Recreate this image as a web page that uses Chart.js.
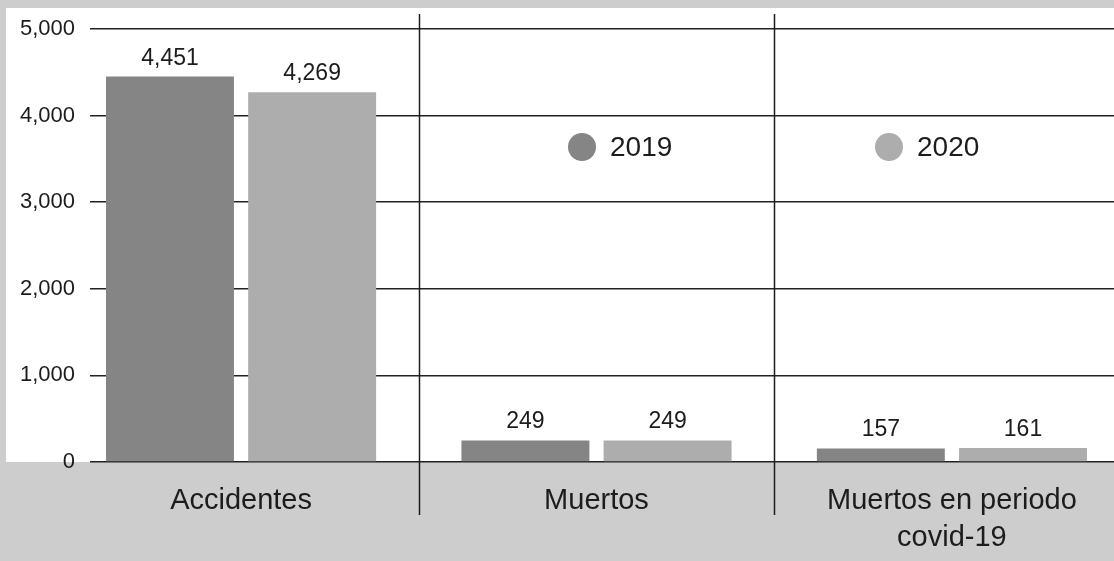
<!DOCTYPE html>
<html>
<head>
<meta charset="utf-8">
<script src="https://cdn.jsdelivr.net/npm/chart.js@4/dist/chart.umd.min.js"></script>
<style>
  html, body { margin: 0; padding: 0; background: #cdcdcd; overflow: hidden; }
  #canvasPanel { display: block; }
</style>
</head>
<body>
<canvas id="canvasPanel" width="1114" height="561"></canvas>
<script>
var CATEGORIES = ['Accidentes', 'Muertos', ['Muertos en periodo', 'covid-19']];
var YEARS = ['2019', '2020'];
var VALUES_2019 = [4451, 249, 157];
var VALUES_2020 = [4269, 249, 161];
var Y_TICKS = [0, 1000, 2000, 3000, 4000, 5000];

var COLORS = ['#858585', '#adadad'];
var INK = '#1c1c1c';
var SANS = "'Liberation Sans', Arial, sans-serif";
var LEGEND_X = [582, 889];

function fmt(v) { return v.toLocaleString('en-US'); }

function points(values) {
  return values.map(function (v, i) { return { x: i, y: v }; });
}

// white panel behind the plot, category dividers
var panelPlugin = {
  id: 'panel',
  beforeDraw: function (chart) {
    var ctx = chart.ctx, y0 = chart.scales.y.getPixelForValue(0);
    ctx.save();
    ctx.fillStyle = '#cdcdcd';
    ctx.fillRect(0, 0, chart.width, chart.height);
    ctx.fillStyle = '#ffffff';
    ctx.fillRect(6, 8, chart.width - 6, y0 - 8);
    ctx.restore();
  },
  afterDraw: function (chart) {
    var ctx = chart.ctx, xs = chart.scales.x;
    ctx.save();
    ctx.strokeStyle = INK;
    ctx.lineWidth = 1.5;
    for (var i = 0; i < CATEGORIES.length - 1; i++) {
      var x = Math.round(xs.getPixelForValue(i + 0.5)) + 0.5;
      ctx.beginPath();
      ctx.moveTo(x, 14);
      ctx.lineTo(x, 515);
      ctx.stroke();
    }
    ctx.restore();
  }
};

// numbers above bars + legend dots inside plot
var labelPlugin = {
  id: 'labels',
  afterDatasetsDraw: function (chart) {
    var ctx = chart.ctx;
    ctx.save();
    ctx.fillStyle = INK;
    ctx.textAlign = 'center';
    ctx.textBaseline = 'alphabetic';
    ctx.font = '23px ' + SANS;
    chart.data.datasets.forEach(function (ds, di) {
      chart.getDatasetMeta(di).data.forEach(function (bar, i) {
        ctx.fillText(fmt(ds.data[i].y), bar.x, bar.y - 12);
      });
    });

    var ly = 147;
    ctx.font = '28px ' + SANS;
    ctx.textAlign = 'left';
    ctx.textBaseline = 'middle';
    chart.data.datasets.forEach(function (ds, di) {
      ctx.fillStyle = ds.backgroundColor;
      ctx.beginPath();
      ctx.arc(LEGEND_X[di], ly, 14, 0, Math.PI * 2);
      ctx.fill();
      ctx.fillStyle = INK;
      ctx.fillText(ds.label, LEGEND_X[di] + 28, ly + 1);
    });
    ctx.restore();
  }
};

var config = {
  type: 'bar',
  data: {
    datasets: [{
      label: YEARS[0],
      backgroundColor: COLORS[0],
      data: points(VALUES_2019)
    }, {
      label: YEARS[1],
      backgroundColor: COLORS[1],
      data: points(VALUES_2020)
    }]
  },
  options: {
    responsive: false,
    animation: false,
    devicePixelRatio: 1,
    layout: { padding: { top: 29, left: 0, right: 0, bottom: 0 } },
    categoryPercentage: 0.8,
    barPercentage: 0.9,
    plugins: {
      legend: { display: false },
      tooltip: { enabled: false }
    },
    scales: {
      x: {
        type: 'linear',
        min: -0.425,
        max: 2.456,
        offset: false,
        grid: { display: false, drawTicks: false },
        border: { display: false },
        afterBuildTicks: function (scale) {
          scale.ticks = CATEGORIES.map(function (c, i) { return { value: i }; });
        },
        afterFit: function (scale) { scale.height = 99; },
        ticks: {
          autoSkip: false,
          maxRotation: 0,
          padding: 20,
          color: INK,
          font: { family: SANS, size: 29, lineHeight: 1.28 },
          callback: function (v) { return CATEGORIES[v]; }
        }
      },
      y: {
        min: 0,
        max: 5000,
        afterBuildTicks: function (scale) {
          scale.ticks = Y_TICKS.map(function (v) { return { value: v }; });
        },
        afterFit: function (scale) { scale.width = 90; },
        grid: { color: '#222222', lineWidth: 1.5, drawTicks: false },
        border: { display: false },
        ticks: {
          padding: 15,
          color: INK,
          font: { family: SANS, size: 22 },
          callback: function (v) { return fmt(v); }
        }
      }
    }
  },
  plugins: [panelPlugin, labelPlugin]
};

window.onload = function () {
  var ctx = document.getElementById('canvasPanel').getContext('2d');
  window.myBar = new Chart(ctx, config);
};
</script>
</body>
</html>
